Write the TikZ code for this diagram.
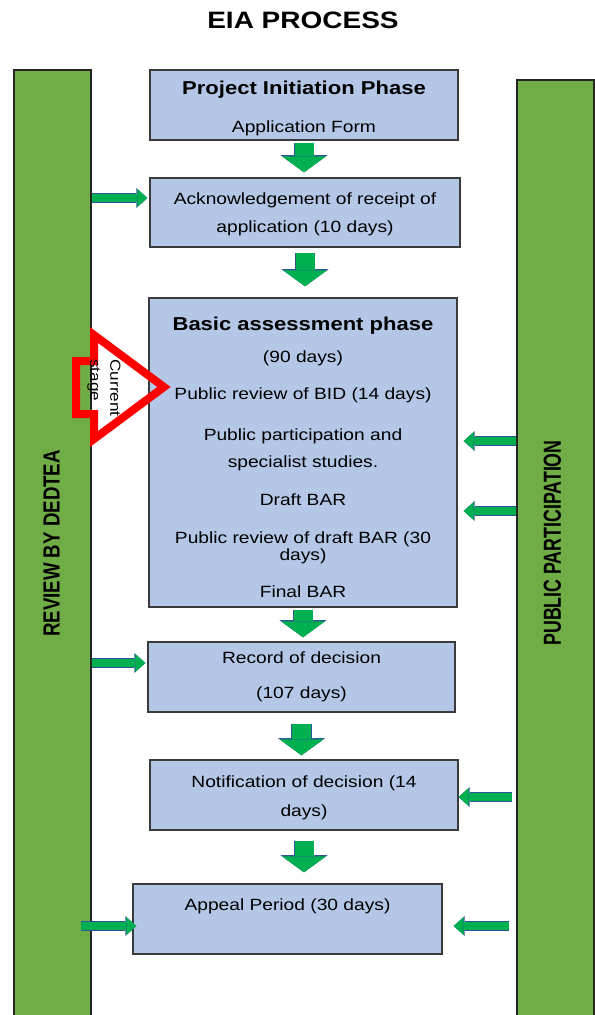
\documentclass[tikz,border=0pt]{standalone}
\usepackage{fontspec}
\setmainfont{Liberation Sans}[FakeStretch=1.18]
\newfontfamily\reviewfont{Liberation Sans}[FakeStretch=0.8]
\newfontfamily\publicfont{Liberation Sans}[FakeStretch=0.72]
\usetikzlibrary{arrows.meta,calc}

\definecolor{bargreen}{HTML}{70AD47}
\definecolor{boxblue}{HTML}{B4C7E7}
\definecolor{flowgreen}{HTML}{00B050}
\definecolor{flowedge}{HTML}{2F5597}
\definecolor{boxedge}{HTML}{3B3B3B}

\newcommand{\phasetitle}[1]{{\fontsize{14}{16}\selectfont\bfseries #1}}
\newcommand{\toproom}[1]{\rule{0pt}{#1}}

\tikzset{
  box/.style={draw=boxedge, line width=1pt, fill=boxblue, align=center,
    inner sep=0pt, font=\fontsize{12.2}{13}\selectfont},
  bar/.style={draw=black!85, line width=1pt, fill=bargreen,
    minimum width=57.75pt, inner sep=0pt},
  flow/.style={draw=flowgreen, line width=14.25pt,
    -{Triangle[length=12pt,width=33pt,line width=0pt]},
    preaction={draw=flowedge, line width=15.5pt,
      -{Triangle[length=13pt,width=35.5pt,line width=0pt]}}},
  side/.style={draw=flowgreen, line width=6pt,
    -{Triangle[length=7.5pt,width=13.5pt,line width=0pt]},
    preaction={draw=flowedge, line width=7pt,
      -{Triangle[length=8.3pt,width=15pt,line width=0pt]}}},
  current/.style={draw=red, line width=6pt}
}

\begin{document}
\begin{tikzpicture}[x=0.75pt,y=-0.75pt]

  \useasboundingbox (0,0) rectangle (595,1015);

  \node[font=\fontsize{17.8}{20}\selectfont\bfseries] (title) at (303,20) {EIA PROCESS};

  % side bars
  \node[bar] (review) [minimum height=712.5pt] at (52.5,545) {};
  \node[bar] (public) [minimum height=705pt] at (555.5,550) {};
  \node[rotate=90, font=\fontsize{17.5}{20}\reviewfont\bfseries] (reviewtxt) at (51.5,543.5) {REVIEW BY DEDTEA};
  \node[rotate=90, font=\fontsize{18.5}{20}\publicfont\bfseries] (publictxt) at (552.5,543) {PUBLIC PARTICIPATION};

  % process boxes
  \node[box] (init) [minimum width=231pt, minimum height=52.5pt] at (304,105)
    {\toproom{14.7pt}\phasetitle{Project Initiation Phase}\\[15.5pt] Application Form};
  \node[box] (ack) [minimum width=232.5pt, minimum height=51.75pt] at (305,212.5)
    {\toproom{12pt}Acknowledgement of receipt of\\[8pt] application (10 days)};
  \node[box] (basic) [minimum width=231pt, minimum height=231.75pt] at (303,452.5)
    {\toproom{17pt}\phasetitle{Basic assessment phase}\\[11pt] (90 days)\\[14.75pt]
     Public review of BID (14 days)\\[17.75pt] Public participation and\\[7.25pt]
     specialist studies.\\[15.5pt] Draft BAR\\[15.5pt]
     Public review of draft BAR (30\\ days)\\[14.75pt] Final BAR};
  \node[box] (record) [minimum width=230.25pt, minimum height=52.5pt] at (301.5,677)
    {Record of decision\\[13.25pt] (107 days)};
  \node[box] (notice) [minimum width=231pt, minimum height=52.5pt] at (304,795)
    {\toproom{13.4pt}Notification of decision (14\\[8.75pt] days)};
  \node[box] (appeal) [minimum width=231.75pt, minimum height=52.5pt,
    text height=9pt, text depth=21.4pt] at (287.5,919) {Appeal Period (30 days)};

  % flow down
  \draw[flow, shorten <=1.5pt, shorten >=3.75pt] (init.south) -- (init.south |- ack.north);
  \draw[flow, shorten <=3.75pt, shorten >=8.25pt] (ack.south) -- (ack.south |- basic.north);
  \draw[flow, shorten <=1.5pt, shorten >=3pt] (basic.south) -- (basic.south |- record.north);
  \draw[flow, shorten <=8.25pt, shorten >=3pt] (record.south) -- (record.south |- notice.north);
  \draw[flow, shorten <=7.5pt, shorten >=8.25pt] (notice.south) -- (notice.south |- appeal.north);

  % arrow ends
  \coordinate (toack) at ($(ack.west)+(-2,-14.5)$);
  \coordinate (torecord) at ($(record.west)+(-2,-14)$);
  \coordinate (toappealL) at ($(appeal.west)+(4,7)$);
  \coordinate (tobasicA) at ($(basic.east)+(6,-11.5)$);
  \coordinate (tobasicB) at ($(basic.east)+(6,58.5)$);
  \coordinate (tonotice) at ($(notice.east)+(0,2)$);
  \coordinate (toappealR) at ($(appeal.east)+(11,7)$);

  \draw[side] (review.east |- toack) -- (toack);
  \draw[side] (review.east |- torecord) -- (torecord);
  \draw[side] ($(review.east |- toappealL)+(-11,0)$) -- (toappealL);
  \draw[side] (public.west |- tobasicA) -- (tobasicA);
  \draw[side] (public.west |- tobasicB) -- (tobasicB);
  \draw[side] ($(public.west |- tonotice)+(-4,0)$) -- (tonotice);
  \draw[side] ($(public.west |- toappealR)+(-7,0)$) -- (toappealR);

  % current stage marker
  \draw[current] (94,361) -- (76,361) -- (76,414) -- (94,414) -- (94,439)
    -- (164,387) -- (94,335) -- cycle;
  \node[rotate=-90, align=left, font=\fontsize{10.9}{15}\selectfont] (stage) at (104,388) {Current\\stage};

\end{tikzpicture}
\end{document}
